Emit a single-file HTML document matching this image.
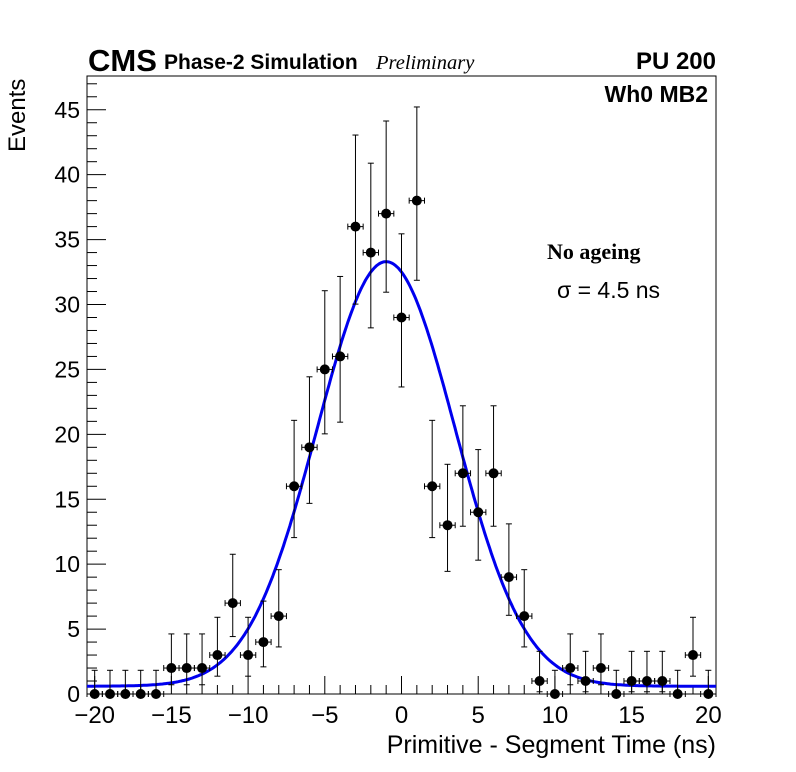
<!DOCTYPE html>
<html><head><meta charset="utf-8"><style>
body{margin:0;background:#fff;}
svg{display:block;font-family:"Liberation Sans",sans-serif;}
</style></head><body>
<svg id="c" width="796" height="772" xmlns="http://www.w3.org/2000/svg">
<rect x="0" y="0" width="796" height="772" fill="#fff"/>
<rect x="87" y="76" width="629" height="618" fill="none" stroke="#000" stroke-width="1"/>
<g id="ticks"></g>
<g id="marks"></g>
<text x="25" y="152" transform="rotate(-90 25 152)" font-size="24" text-anchor="start">Events</text>
<text x="716" y="753" font-size="25" text-anchor="end">Primitive - Segment Time (ns)</text>
<text x="88" y="71" font-size="31" font-weight="bold">CMS</text>
<text x="164" y="69" font-size="21" font-weight="bold">Phase-2 Simulation</text>
<text x="376" y="69" font-size="20.5" font-style="italic" font-family="Liberation Serif,serif">Preliminary</text>
<text x="716" y="69" font-size="24" font-weight="bold" text-anchor="end">PU 200</text>
<text x="708" y="102" font-size="23" font-weight="bold" text-anchor="end">Wh0 MB2</text>
<text x="547" y="259" font-size="22" font-weight="bold" font-family="Liberation Serif,serif">No ageing</text>
<text x="557" y="298" font-size="23">σ = 4.5 ns</text>
</svg>
<script>
const binCenters=[-20,-19,-18,-17,-16,-15,-14,-13,-12,-11,-10,-9,-8,-7,-6,-5,-4,-3,-2,-1,0,1,2,3,4,5,6,7,8,9,10,11,12,13,14,15,16,17,18,19,20];
const counts=[0,0,0,0,0,2,2,2,3,7,3,4,6,16,19,25,26,36,34,37,29,38,16,13,17,14,17,9,6,1,0,2,1,2,0,1,1,1,0,3,0];
const fitParams=[32.7,-1,4.5,0.6];
const xTicks=[-20,-15,-10,-5,0,5,10,15,20];
const yTicks=[0,5,10,15,20,25,30,35,40,45];
const NS="http://www.w3.org/2000/svg";
const X0=87,X1=716,Y0=694,Y1=76,xmin=-20.5,xmax=20.5,ymin=0,ymax=47.6;
const sx=v=>X0+(v-xmin)/(xmax-xmin)*(X1-X0);
const sy=v=>Y0-(v-ymin)/(ymax-ymin)*(Y0-Y1);
function mk(t,a,p){const e=document.createElementNS(NS,t);for(const k in a)e.setAttribute(k,a[k]);p.appendChild(e);return e;}
const tk=document.getElementById('ticks'),mg=document.getElementById('marks');
for(let v=-20;v<=20;v++){const maj=v%5===0;const l=mk('line',{x1:sx(v),x2:sx(v),y1:Y0,y2:Y0-(maj?18:9),stroke:'#000'},tk);

}
for(let v=0;v<=47;v++){const maj=v%5===0;const l=mk('line',{x1:X0,x2:X0+(maj?19:10),y1:sy(v),y2:sy(v),stroke:'#000'},tk);

}
xTicks.forEach(v=>{const t=mk('text',{x:sx(v),y:723,'font-size':24,'text-anchor':'middle'},tk);t.textContent=(v<0?'\u2212'+(-v):v);

});
yTicks.forEach(v=>{const t=mk('text',{x:80,y:sy(v)+8,'font-size':23,'text-anchor':'end'},tk);t.textContent=v;

});
let d='';for(let i=0;i<=400;i++){const x=xmin+(xmax-xmin)*i/400;const y=fitParams[3]+fitParams[0]*Math.exp(-0.5*Math.pow((x-fitParams[1])/fitParams[2],2));d+=(i?'L':'M')+sx(x).toFixed(1)+' '+sy(y).toFixed(1);}
const fc=mk('path',{d:d,fill:'none',stroke:'#0000ee','stroke-width':3},mg);


function up(n){const m=n+1;return m*Math.pow(1-1/(9*m)+1/(3*Math.sqrt(m)),3);}
function lo(n){if(n===0)return 0;return n*Math.pow(1-1/(9*n)-1/(3*Math.sqrt(n)),3);}
binCenters.forEach((x,i)=>{const n=counts[i];const g=mk('g',{},mg);


const cx=sx(x),cy=sy(n),yh=sy(up(n)),yl=sy(lo(n)),xl=sx(x-0.5),xr=sx(x+0.5);
mk('line',{x1:cx,x2:cx,y1:yh,y2:yl,stroke:'#000'},g);
mk('line',{x1:cx-3,x2:cx+3,y1:yh,y2:yh,stroke:'#000'},g);
if(n>0)mk('line',{x1:cx-3,x2:cx+3,y1:yl,y2:yl,stroke:'#000'},g);
mk('line',{x1:xl,x2:xr,y1:cy,y2:cy,stroke:'#000'},g);
mk('line',{x1:xl,x2:xl,y1:cy-3,y2:cy+3,stroke:'#000'},g);
mk('line',{x1:xr,x2:xr,y1:cy-3,y2:cy+3,stroke:'#000'},g);
mk('circle',{cx:cx,cy:cy,r:5,fill:'#000'},g);});
</script>
</body></html>
